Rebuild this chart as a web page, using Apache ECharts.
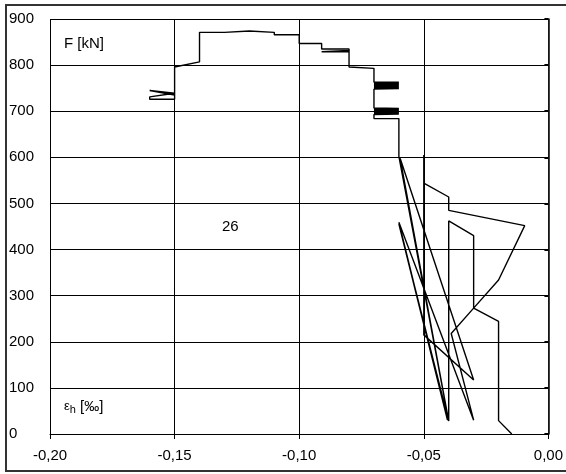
<!DOCTYPE html>
<html>
<head>
<meta charset="utf-8">
<script src="https://cdn.jsdelivr.net/npm/echarts@6/dist/echarts.min.js"></script>
<style>
html,body{margin:0;padding:0;background:#fff;}
#c{width:566px;height:474px;}
</style>
</head>
<body>
<div id="c"></div>
<script>
// [strain eps_h ‰, force F kN] pairs, in drawing order
const pathLeft = [
 [-0.150,735],[-0.160,745],[-0.160,743],[-0.150,739],[-0.160,731],[-0.160,726],[-0.150,726],
 [-0.150,796],[-0.140,807],[-0.140,871],[-0.130,871],[-0.130,874],[-0.120,874],[-0.120,871],
 [-0.110,871],[-0.110,866],[-0.100,866],[-0.100,847],[-0.091,847],[-0.091,835],[-0.080,835],
 [-0.080,829],[-0.091,829],[-0.091,832],[-0.080,832],[-0.080,796],[-0.070,793],[-0.070,763]
];
const pathBlockUpper = [
 [-0.060,763],[-0.060,762],[-0.070,762],[-0.070,761],[-0.060,761],[-0.060,760],[-0.070,760],
 [-0.070,759],[-0.060,759],[-0.060,758],[-0.070,758],[-0.070,757],[-0.060,757],[-0.060,756],
 [-0.070,756],[-0.070,755],[-0.060,755],[-0.060,754],[-0.070,754],[-0.070,753],[-0.060,753],
 [-0.060,752],[-0.070,752],[-0.070,751],[-0.060,751],[-0.060,750],[-0.070,750],[-0.070,749],
 [-0.060,749],[-0.060,748],[-0.070,748]
];
const pathBlockLower = [
 [-0.070,707],[-0.060,706],[-0.060,705],[-0.070,705],[-0.070,704],[-0.060,704],[-0.060,703],
 [-0.070,703],[-0.070,702],[-0.060,702],[-0.060,701],[-0.070,701],[-0.070,700],[-0.060,700],
 [-0.060,699],[-0.070,699],[-0.070,698],[-0.060,698],[-0.060,697],[-0.070,697],[-0.070,696],
 [-0.060,696],[-0.060,695],[-0.070,695],[-0.070,694],[-0.060,694],[-0.060,693],[-0.070,693],
 [-0.070,684],[-0.060,684],[-0.060,602]
];
const pathCycles = [
 [-0.040,28],[-0.0595,598],[-0.030,117],[-0.050,215],[-0.050,605],[-0.050,544],[-0.040,514],
 [-0.040,485],[-0.0095,452],[-0.020,334],[-0.030,273],[-0.039,218],[-0.030,30],[-0.060,459],
 [-0.0405,30],[-0.060,455],[-0.040,28],[-0.040,462],[-0.030,430],[-0.030,273],[-0.020,244],
 [-0.020,29],[-0.0147,0]
];
const xTicks = {min:-0.20, max:0.00, step:0.05};
const yTicks = {min:0, max:900, step:100};
const labelF = 'F [kN]';
const labelNo = '26';

const pts = [].concat(pathLeft, pathBlockUpper, pathBlockLower, pathCycles);
const chart = echarts.init(document.getElementById('c'), null, {renderer:'canvas'});
const font = 'Arial, "Liberation Sans", sans-serif';
chart.setOption({
  animation:false,
  backgroundColor:'#fff',
  grid:{left:50, right:16, top:19, bottom:40, show:false},
  xAxis:{
    type:'value', min:xTicks.min, max:xTicks.max, interval:xTicks.step,
    axisLine:{show:true, onZero:false, lineStyle:{color:'#000', width:1}},
    axisTick:{show:true, inside:false, length:5, lineStyle:{color:'#000'}},
    axisLabel:{color:'#000', fontFamily:font, fontSize:15, margin:14,
      formatter:v=>v.toFixed(2).replace('.',',')},
    splitLine:{show:true, lineStyle:{color:'#000', width:1}}
  },
  yAxis:[{
    type:'value', min:yTicks.min, max:yTicks.max, interval:yTicks.step,
    axisLine:{show:true, lineStyle:{color:'#555', width:1}},
    axisTick:{show:false},
    axisLabel:{color:'#000', fontFamily:font, fontSize:15, align:'left', margin:41,
      padding:[0,0,4,0]},
    splitLine:{show:true, lineStyle:{color:'#000', width:1}}
  },{
    type:'value', position:'right', min:yTicks.min, max:yTicks.max, interval:yTicks.step,
    axisLine:{show:true, lineStyle:{color:'#000', width:1.5}},
    axisTick:{show:true, inside:true, length:4, lineStyle:{color:'#000', width:2}},
    axisLabel:{show:false},
    splitLine:{show:false}
  }],
  series:[{
    type:'line', data:pts, showSymbol:false, symbol:'none',
    lineStyle:{color:'#000', width:1.4}, silent:true
  }],
  graphic:[
    {type:'rect', shape:{x:6, y:5, width:562, height:466},
     style:{fill:null, stroke:'#333', lineWidth:2}},
    {type:'text', left:64, top:36,
     style:{text:labelF, font:'15px Arial, "Liberation Sans", sans-serif', fill:'#000'}},
    {type:'text', left:222, top:219,
     style:{text:labelNo, font:'15px Arial, "Liberation Sans", sans-serif', fill:'#000'}},
    {type:'text', left:64, top:399,
     style:{text:'{e|ε}{h|h}{n| [‰]}',
       rich:{
         e:{fontSize:13, fontFamily:font, fill:'#000'},
         h:{fontSize:11, fontFamily:font, fill:'#000', padding:[6,0,0,0]},
         n:{fontSize:15, fontFamily:font, fill:'#000'}
       }}}
  ]
});
</script>
</body>
</html>
